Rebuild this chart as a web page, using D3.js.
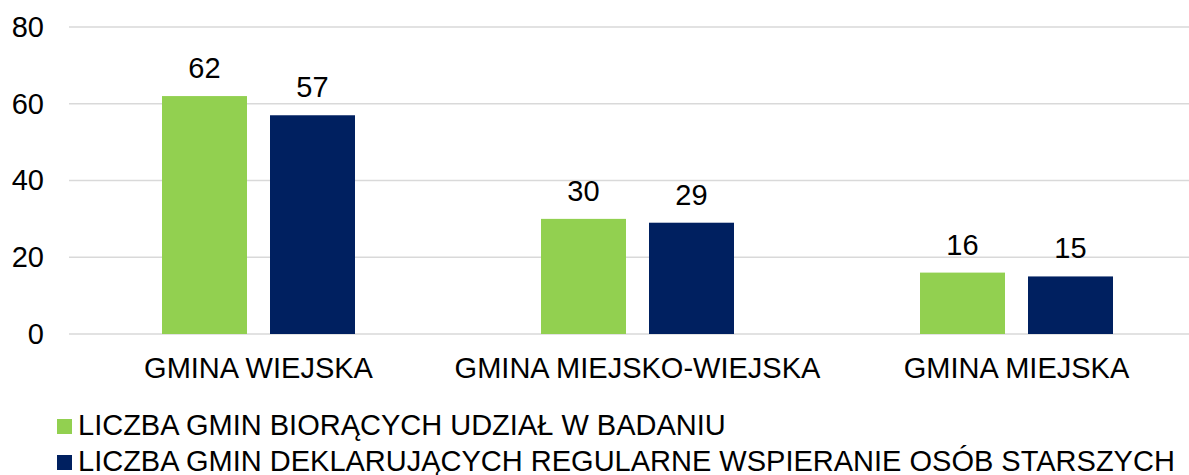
<!DOCTYPE html>
<html>
<head>
<meta charset="utf-8">
<script src="https://cdn.jsdelivr.net/npm/d3@7"></script>
<style>
  html, body { margin: 0; padding: 0; background: #fff; }
  svg { display: block; font-family: "Liberation Sans", Arial, sans-serif; }
</style>
</head>
<body>
<svg id="chart" width="1189" height="475"></svg>
<script>
const categories = ["GMINA WIEJSKA", "GMINA MIEJSKO-WIEJSKA", "GMINA MIEJSKA"];
const seriesNames = [
  "LICZBA GMIN BIORĄCYCH UDZIAŁ W BADANIU",
  "LICZBA GMIN DEKLARUJĄCYCH REGULARNE WSPIERANIE OSÓB STARSZYCH"
];
const participating = [62, 30, 16];
const declaring = [57, 29, 15];
const yTicks = [0, 20, 40, 60, 80];
const colors = ["#92D050", "#002060"];

const FONT = "Liberation Sans, Arial, sans-serif";
const FS = 29;

const svg = d3.select("#chart");
const plot = { left: 69, right: 1206, top: 27, bottom: 334 };

const x = d3.scaleBand().domain(categories).range([plot.left, plot.right]).paddingInner(0).paddingOuter(0);
const y = d3.scaleLinear().domain([0, 80]).range([plot.bottom, plot.top]);

// inner band for the two series within each category
const groupWidth = 193;
const xs = d3.scaleBand().domain(d3.range(seriesNames.length))
  .range([0, groupWidth]).paddingInner(0.213).paddingOuter(0);

// horizontal gridlines
svg.append("g").selectAll("line").data(yTicks).join("line")
  .attr("x1", plot.left).attr("x2", plot.right)
  .attr("y1", d => y(d)).attr("y2", d => y(d))
  .attr("stroke", "#d9d9d9").attr("stroke-width", 1.5);

// y axis labels
const yAxis = d3.axisLeft(y).tickValues(yTicks).tickSize(0).tickPadding(0);
const yg = svg.append("g").attr("transform", `translate(44,0)`).call(yAxis)
  .attr("font-size", FS).attr("font-family", FONT);
yg.select(".domain").remove();
yg.selectAll("text").attr("fill", "#000");

const data = categories.map((c, i) => ({ cat: c, values: [participating[i], declaring[i]] }));

const groups = svg.append("g").selectAll("g").data(data).join("g")
  .attr("transform", d => `translate(${x(d.cat) + (x.bandwidth() - groupWidth) / 2},0)`);

groups.selectAll("rect").data(d => d.values.map((v, k) => ({ v, k }))).join("rect")
  .attr("x", d => xs(d.k)).attr("width", xs.bandwidth())
  .attr("y", d => y(d.v)).attr("height", d => y(0) - y(d.v))
  .attr("fill", d => colors[d.k]);

groups.selectAll("text.val").data(d => d.values.map((v, k) => ({ v, k }))).join("text")
  .attr("class", "val")
  .attr("x", d => xs(d.k) + xs.bandwidth() / 2)
  .attr("y", d => y(d.v) - 18)
  .attr("text-anchor", "middle").attr("font-size", FS).attr("fill", "#000")
  .text(d => d.v);

// category axis
const xAxis = d3.axisBottom(x).tickSize(0).tickPadding(0);
const xg = svg.append("g").attr("transform", `translate(0,${plot.bottom})`).call(xAxis)
  .attr("font-size", FS).attr("font-family", FONT);
xg.select(".domain").remove();
xg.selectAll("text").attr("fill", "#000").attr("dy", null).attr("y", 44);

// legend
const legend = svg.append("g").selectAll("g").data(seriesNames).join("g")
  .attr("transform", (d, i) => `translate(57,${419 + i * 36})`);
legend.append("rect").attr("width", 15).attr("height", 15).attr("fill", (d, i) => colors[i]);
legend.append("text").attr("x", 21).attr("y", 16).attr("font-size", FS).attr("fill", "#000")
  .text(d => d);
</script>
</body>
</html>
